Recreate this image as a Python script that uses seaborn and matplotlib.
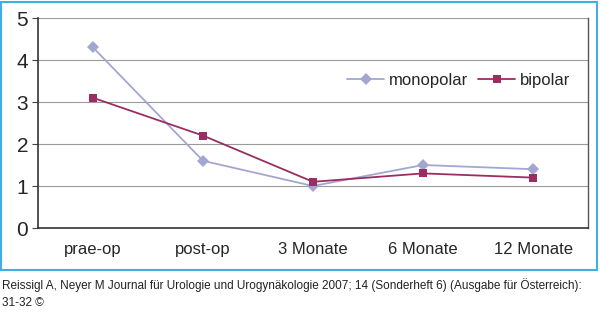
import matplotlib
matplotlib.use("Agg")
import matplotlib.pyplot as plt
import seaborn as sns
import pandas as pd
from matplotlib.patches import Rectangle

categories = ["prae-op", "post-op", "3 Monate", "6 Monate", "12 Monate"]
monopolar = [4.3, 1.6, 1.0, 1.5, 1.4]
bipolar = [3.1, 2.2, 1.1, 1.3, 1.2]
y_ticks = [0, 1, 2, 3, 4, 5]
caption = ("Reissigl A, Neyer M Journal für Urologie und Urogynäkologie 2007; 14 (Sonderheft 6) (Ausgabe für Österreich):\n"
           "31-32 ©")

sns.set_style("white")
plt.rcParams['font.family'] = ['Liberation Sans', 'DejaVu Sans']

df = pd.DataFrame({
    "pos": list(range(len(categories))) * 2,
    "value": monopolar + bipolar,
    "series": ["monopolar"] * len(categories) + ["bipolar"] * len(categories),
})

fig = plt.figure(figsize=(6.0, 3.32), dpi=100)
fig.patch.set_facecolor("white")
fig.add_artist(Rectangle((0.002, 1 - 270 / 332), 0.993, 268 / 332, transform=fig.transFigure,
                         fill=False, edgecolor="#3fb0e0", linewidth=1.5))

ax = fig.add_axes([38 / 600, 1 - 228 / 332, 550 / 600, 210 / 332])
palette = {"monopolar": "#a4a6d2", "bipolar": "#9b2d62"}
markers = {"monopolar": "D", "bipolar": "s"}
sns.lineplot(data=df, x="pos", y="value", hue="series", style="series",
             palette=palette, markers=markers, dashes=False, markersize=6,
             markeredgewidth=0, linewidth=1.3, ax=ax)

ax.set_xlim(-0.5, len(categories) - 0.5)
ax.set_ylim(0, 5)
ax.set_yticks(y_ticks)
ax.set_yticklabels([str(t) for t in y_ticks], fontsize=15)
ax.set_xticks(range(len(categories)))
ax.set_xticklabels(categories, fontsize=12)
ax.tick_params(axis="x", length=0, pad=10)
ax.set_xticks([i - 0.5 for i in range(len(categories) + 1)], minor=True)
ax.tick_params(axis="x", which="minor", length=4, color="#444444", direction="out")
ax.tick_params(axis="y", length=4, color="#444444", direction="out", left=True, pad=3)
ax.set_xlabel("")
ax.set_ylabel("")
ax.yaxis.grid(True, color="#9a9a9a", linewidth=0.8)
ax.set_axisbelow(True)
for s in ["left", "bottom"]:
    ax.spines[s].set_color("#333333")
    ax.spines[s].set_linewidth(1.2)
ax.spines["right"].set_color("#555555")
ax.spines["right"].set_linewidth(1.0)
ax.spines["top"].set_visible(False)

ax.legend(loc="upper right", bbox_to_anchor=(0.995, 0.81), ncol=2, frameon=False,
          fontsize=12, handlelength=2.2, columnspacing=0.6, handletextpad=0.3)

fig.text(2 / 600, 1 - 278 / 332, caption, fontsize=8.5, va="top", ha="left",
         color="#222222", linespacing=1.6)

fig.savefig("out.png", dpi=100)
